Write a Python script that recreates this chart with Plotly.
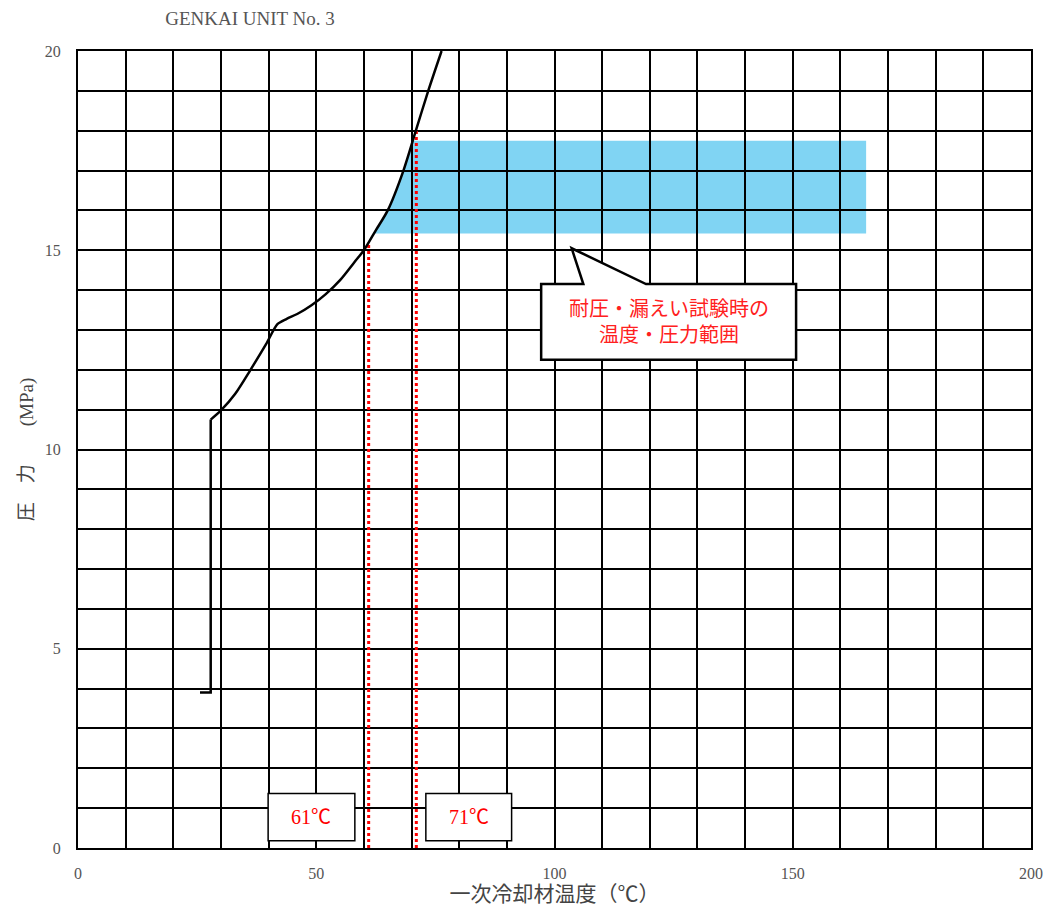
import numpy as np
import plotly.graph_objects as go

# ---- data ----
stub_x = [25.6, 27.85, 27.85]
stub_y = [3.9, 3.9, 10.75]
curve_x = [27.85, 30.0, 33.0, 36.2, 39.5, 41.9, 43.8, 46.0, 49.0, 52.0, 55.0, 58.0, 60.0, 62.5, 65.0, 68.3, 70.9, 73.5, 76.3]
curve_y = [10.75, 10.98, 11.4, 12.0, 12.65, 13.15, 13.28, 13.4, 13.62, 13.9, 14.25, 14.7, 15.0, 15.5, 16.0, 17.0, 18.0, 19.0, 20.0]

band_y_low = 15.42
band_y_high = 17.75
band_x_right = 165.4

test_temps = [61, 71]
test_temp_labels = ["61℃", "71℃"]

x_tick_vals = list(range(0, 201, 10))
x_tick_text = [str(v) if v % 50 == 0 else "" for v in x_tick_vals]
y_tick_vals = list(range(0, 21, 1))
y_tick_text = [str(v) if v % 5 == 0 else "" for v in y_tick_vals]

title_text = "GENKAI UNIT No. 3"
x_title = "一次冷却材温度（℃）"
y_title = "圧　力　　(MPa)"
callout_text = "耐圧・漏えい試験時の<br>温度・圧力範囲"

SERIF = "Liberation Serif, Noto Sans CJK JP, serif"

cx = np.array(curve_x)
cy = np.array(curve_y)

fig = go.Figure()

# blue band polygon: left edge follows the curve
ys = np.linspace(band_y_low, band_y_high, 30)
xs_left = np.interp(ys, cy, cx)
path = f"M {xs_left[0]},{ys[0]} "
for xx, yy in zip(xs_left[1:], ys[1:]):
    path += f"L {xx},{yy} "
path += f"L {band_x_right},{band_y_high} L {band_x_right},{band_y_low} Z"
fig.add_shape(type="path", path=path, xref="x", yref="y", layer="below",
              fillcolor="#80d4f3", line=dict(width=0))

# red dotted lines
for t in test_temps:
    top = float(np.interp(t, cx, cy))
    fig.add_trace(go.Scatter(x=[t, t], y=[0, top], mode="lines",
                             line=dict(color="#ff0000", width=3, dash="dot"),
                             hoverinfo="skip", showlegend=False))

# main curve
fig.add_trace(go.Scatter(x=stub_x, y=stub_y, mode="lines",
                         line=dict(color="black", width=2.5),
                         hoverinfo="skip", showlegend=False))
fig.add_trace(go.Scatter(x=curve_x, y=curve_y, mode="lines",
                         line=dict(color="black", width=2.5, shape="spline", smoothing=0.8),
                         hoverinfo="skip", showlegend=False))

# label boxes for temperatures
box_x = [(39.9, 58.1), (73.0, 91.0)]
for (x0, x1), lab in zip(box_x, test_temp_labels):
    fig.add_shape(type="rect", x0=x0, x1=x1, y0=0.18, y1=1.37, xref="x", yref="y",
                  fillcolor="white", line=dict(color="black", width=1.5), layer="above")
    fig.add_annotation(x=(x0 + x1) / 2, y=0.78, text=lab, showarrow=False,
                       font=dict(family=SERIF, size=20, color="#ff0000"))

# callout
cpath = ("M 97.2,14.15 L 106.05,14.15 L 103.6,15.05 L 119.2,14.15 "
         "L 150.7,14.15 L 150.7,12.25 L 97.2,12.25 Z")
fig.add_shape(type="path", path=cpath, xref="x", yref="y", layer="above",
              fillcolor="white", line=dict(color="black", width=2.5))
fig.add_annotation(x=123.95, y=13.2, text=callout_text, showarrow=False,
                   font=dict(family=SERIF, size=20, color="#ff2020"),
                   align="center")

fig.update_xaxes(range=[0, 200], tickvals=x_tick_vals, ticktext=x_tick_text,
                 showgrid=True, gridcolor="black", gridwidth=2, zeroline=False,
                 showline=True, linecolor="black", linewidth=2, mirror=True,
                 ticks="", ticklabelstandoff=10, automargin=False,
                 tickfont=dict(family=SERIF, size=16, color="#555555"),
                 title=dict(text=x_title, font=dict(family=SERIF, size=21, color="#444444"),
                            standoff=2))
fig.update_yaxes(range=[0, 20], tickvals=y_tick_vals, ticktext=y_tick_text,
                 showgrid=True, gridcolor="black", gridwidth=2, zeroline=False,
                 showline=True, linecolor="black", linewidth=2, mirror=True,
                 ticks="", ticklabelstandoff=12, automargin=False,
                 tickfont=dict(family=SERIF, size=16, color="#555555"),
                 title=dict(text=y_title, font=dict(family=SERIF, size=19, color="#444444"),
                            standoff=6))

fig.update_layout(
    width=1043, height=905,
    margin=dict(l=70, r=20, t=43, b=65, autoexpand=False),
    plot_bgcolor="white", paper_bgcolor="white",
    showlegend=False,
    title=dict(text=title_text, x=242 / 1043, xanchor="center", y=1 - 10 / 905, yanchor="middle",
               font=dict(family=SERIF, size=19, color="#555555")),
)

fig.write_html("out.html")
